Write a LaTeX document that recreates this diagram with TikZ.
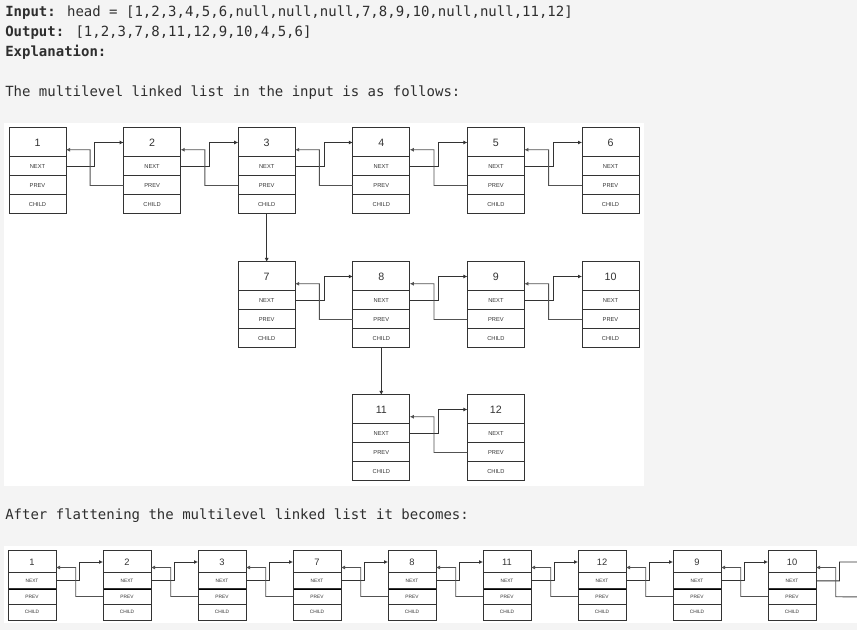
\documentclass[tikz,border=0pt]{standalone}
\usepackage{fontspec}
\setmainfont{Liberation Sans}
\newfontfamily\codefont{DejaVu Sans Mono}
\usetikzlibrary{positioning,calc,arrows.meta}
\definecolor{pagebg}{HTML}{F4F4F4}
\definecolor{codeink}{HTML}{2E2E2E}
\definecolor{boxink}{HTML}{333333}

% 一个链表结点: 名称, x, y, 值
\newcommand{\llnode}[4]{%
  \node[numcell, anchor=north west] (#1) at (#2,#3) {#4};
  \node[fieldcell, below=0pt of #1] (#1-n) {NEXT};
  \node[prevcell, below=0pt of #1-n] (#1-p) {PREV};
  \node[fieldcell, below=0pt of #1-p] (#1-c) {CHILD};
}
% 两个结点之间的 next / prev 指针
\newcommand{\linkpair}[2]{%
  \draw[nextlink] (#1-n.east) -- ($(#1-n.east)!.5!(#2-n.west)$) |- (#2.west);
  \draw[prevlink] (#2-p.west) -- ($(#2-p.west)!.58!(#1-p.east)$) |- ($(#1.east)!.5!(#1.south east)$);
}

\begin{document}
\begin{tikzpicture}[x=0.75pt, y=-0.75pt, >={Latex[length=3pt,width=3pt]},
    codeline/.style={anchor=base west, inner sep=0pt, text=codeink, font=\codefont\fontsize{10.5pt}{12pt}\selectfont},
    numcell/.style={draw=boxink, line width=0.75pt, fill=white, outer sep=0pt, minimum width=42.75pt, minimum height=21.75pt, inner sep=0pt, text=boxink, font=\fontsize{8pt}{9pt}\selectfont},
    fieldcell/.style={draw=boxink, line width=0.75pt, fill=white, outer sep=0pt, minimum width=42.75pt, minimum height=14.25pt, inner sep=0pt, text=boxink, font=\fontsize{4.3pt}{5pt}\selectfont},
    prevcell/.style={fieldcell},
    nextlink/.style={->, draw=boxink, line width=0.7pt},
    prevlink/.style={->, draw=boxink!85, line width=0.7pt},
    childlink/.style={->, draw=boxink, line width=0.7pt}]
  % 画布与背景
  \clip (0,0) rectangle (857,630);
  \fill[pagebg] (0,0) rectangle (857,630);
  \fill[white] (4,123) rectangle (644,486);
  \fill[white] (4,546) rectangle (857,623);

  % 文字说明
  \node[codeline] (inp) at (5,17) {\textbf{Input:} head = [1,2,3,4,5,6,null,null,null,7,8,9,10,null,null,11,12]};
  \node[codeline] (outp) at (5,37) {\textbf{Output:} [1,2,3,7,8,11,12,9,10,4,5,6]};
  \node[codeline] (expl) at (5,57) {\textbf{Explanation:}};
  \node[codeline] (cap1) at (5,97) {The multilevel linked list in the input is as follows:};
  \node[codeline] (cap2) at (5,520) {After flattening the multilevel linked list it becomes:};

  % 第一层
  \llnode{a1}{9}{128}{1}
  \llnode{a2}{123.6}{128}{2}
  \llnode{a3}{238.2}{128}{3}
  \llnode{a4}{352.8}{128}{4}
  \llnode{a5}{467.4}{128}{5}
  \llnode{a6}{582}{128}{6}
  % 第二层
  \llnode{a7}{238.2}{262}{7}
  \llnode{a8}{352.8}{262}{8}
  \llnode{a9}{467.4}{262}{9}
  \llnode{a10}{582}{262}{10}
  % 第三层
  \llnode{a11}{352.8}{395}{11}
  \llnode{a12}{467.4}{395}{12}

  \linkpair{a1}{a2}
  \linkpair{a2}{a3}
  \linkpair{a3}{a4}
  \linkpair{a4}{a5}
  \linkpair{a5}{a6}
  \linkpair{a7}{a8}
  \linkpair{a8}{a9}
  \linkpair{a9}{a10}
  \linkpair{a11}{a12}

  % child 指针
  \draw[childlink] (a3-c.south) -- (a7.north);
  \draw[childlink] (a8-c.south) -- (a11.north);

  % 展平后的链表 (结点更小)
  \begin{scope}[
      numcell/.style={draw=boxink, line width=0.75pt, fill=white, outer sep=0pt, minimum width=36pt, minimum height=16.5pt, inner sep=0pt, text=boxink, font=\fontsize{7pt}{8pt}\selectfont},
      fieldcell/.style={draw=boxink, line width=0.75pt, fill=white, outer sep=0pt, minimum width=36pt, minimum height=11.75pt, inner sep=0pt, text=boxink, font=\fontsize{3.6pt}{4pt}\selectfont},
      prevcell/.style={fieldcell, path picture={\draw[black, line width=2.2pt] (path picture bounding box.north west) -- (path picture bounding box.north east);}}]
    \llnode{b1}{8}{551}{1}
    \llnode{b2}{103}{551}{2}
    \llnode{b3}{198}{551}{3}
    \llnode{b7}{293}{551}{7}
    \llnode{b8}{388}{551}{8}
    \llnode{b11}{483}{551}{11}
    \llnode{b12}{578}{551}{12}
    \llnode{b9}{673}{551}{9}
    \llnode{b10}{768}{551}{10}

    \linkpair{b1}{b2}
    \linkpair{b2}{b3}
    \linkpair{b3}{b7}
    \linkpair{b7}{b8}
    \linkpair{b8}{b11}
    \linkpair{b11}{b12}
    \linkpair{b12}{b9}
    \linkpair{b9}{b10}

    % 右侧继续 (结点 4 在画面外)
    \coordinate (tail) at (863,562);
    \coordinate (tail-n) at (863,581);
    \coordinate (tail-p) at (863,597);
    \draw[nextlink] (b10-n.east) -- ($(b10-n.east)!.5!(tail-n)$) |- (tail);
    \draw[prevlink] (tail-p) -- ($(tail-p)!.58!(b10-p.east)$) |- ($(b10.east)!.5!(b10.south east)$);
  \end{scope}
\end{tikzpicture}
\end{document}
